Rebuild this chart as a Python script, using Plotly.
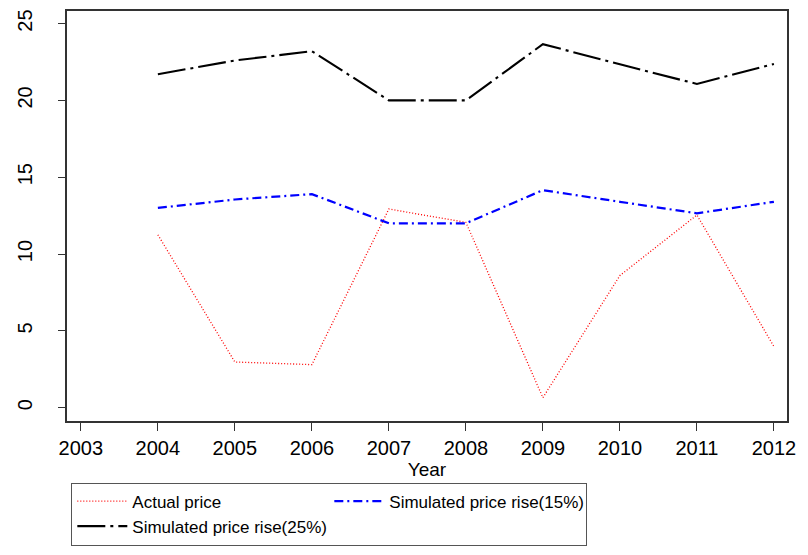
import plotly.graph_objects as go

years = [2004, 2005, 2006, 2007, 2008, 2009, 2010, 2011, 2012]
actual_price = [11.25, 2.97, 2.8, 12.93, 12.06, 0.65, 8.6, 12.54, 3.98]
sim_rise_15 = [13.0, 13.55, 13.9, 12.0, 12.0, 14.16, 13.4, 12.65, 13.4]
sim_rise_25 = [21.7, 22.6, 23.2, 20.0, 20.0, 23.66, 22.35, 21.07, 22.37]
x_ticks = list(range(2003, 2013))
y_ticks = [0, 5, 10, 15, 20, 25]

fig = go.Figure()
fig.add_trace(go.Scatter(x=years, y=actual_price, mode="lines", name="Actual price",
                         line=dict(color="#ff0000", width=1.3, dash="1px,2px")))
fig.add_trace(go.Scatter(x=years, y=sim_rise_15, mode="lines", name="Simulated price rise(15%)",
                         line=dict(color="#0000ff", width=2.2, dash="9px,4px,2px,4px")))
fig.add_trace(go.Scatter(x=years, y=sim_rise_25, mode="lines", name="Simulated price rise(25%)",
                         line=dict(color="#000000", width=2.1, dash="28px,5px,3px,5px")))

fig.update_layout(
    width=808, height=555,
    margin=dict(l=67, r=21, t=9, b=133),
    plot_bgcolor="white", paper_bgcolor="white",
    font=dict(family="Liberation Sans, Arial, sans-serif", size=20, color="black"),
    showlegend=True,
    legend=dict(
        orientation="h", x=0.006, y=-0.15, xanchor="left", yanchor="top",
        entrywidth=192, entrywidthmode="pixels", itemwidth=50,
        bordercolor="#555555", borderwidth=1,
        font=dict(size=17, family="Liberation Sans, Arial, sans-serif"),
        traceorder="normal",
    ),
)
fig.update_xaxes(
    range=[2002.82, 2012.17], tickmode="array", tickvals=x_ticks,
    ticktext=[str(v) for v in x_ticks],
    ticks="outside", ticklen=8, tickcolor="#333333", tickwidth=1,
    showline=True, linecolor="#333333", linewidth=1.5, mirror=True,
    showgrid=False, zeroline=False,
    title=dict(text="Year", standoff=0, font=dict(size=19)),
    tickfont=dict(size=20),
)
fig.update_yaxes(
    range=[-0.87, 25.82], tickmode="array", tickvals=y_ticks,
    ticktext=[str(v) for v in y_ticks],
    ticks="outside", ticklen=7, tickcolor="#333333", tickwidth=1,
    tickangle=-90, ticklabelstandoff=18,
    showline=True, linecolor="#333333", linewidth=1.5, mirror=True,
    showgrid=False, zeroline=False,
    tickfont=dict(size=20),
)

fig.write_html("out.html", config={"displayModeBar": False},
               post_script="document.body.style.margin='0';")
